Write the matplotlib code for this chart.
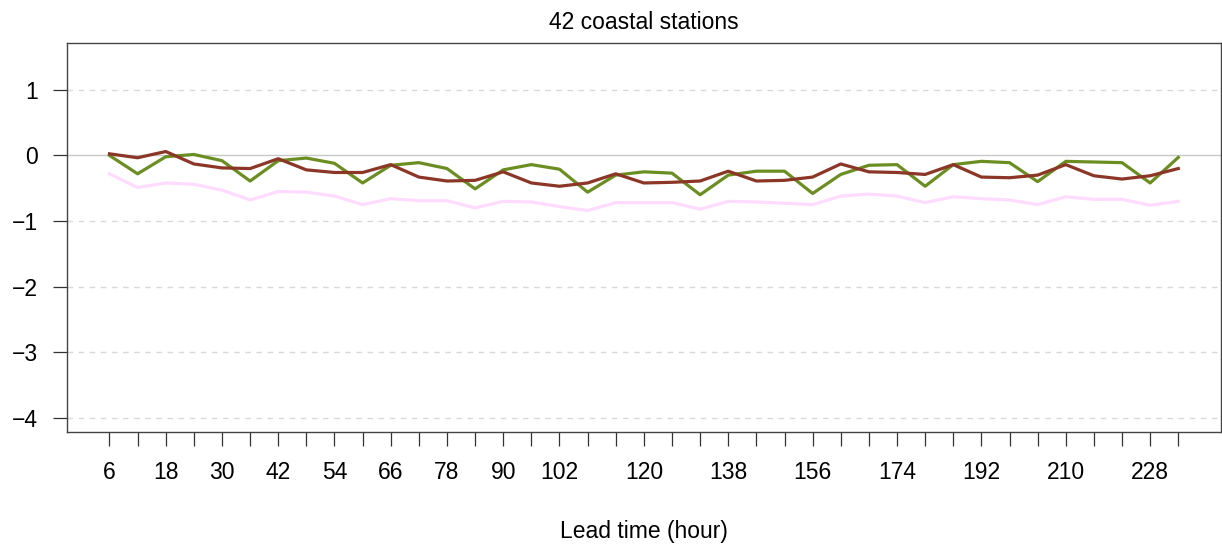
import matplotlib

matplotlib.use("Agg")
import matplotlib.pyplot as plt
import numpy as np

# lead times (hours) and the three series
lead_time = np.arange(6, 235, 6)
green = [0.00, -0.28, -0.02, 0.015, -0.08, -0.39, -0.08, -0.04, -0.12, -0.42,
         -0.15, -0.11, -0.20, -0.51, -0.22, -0.14, -0.21, -0.56, -0.30, -0.25,
         -0.27, -0.60, -0.30, -0.24, -0.24, -0.58, -0.29, -0.15, -0.14, -0.47,
         -0.14, -0.09, -0.11, -0.40, -0.09, -0.10, -0.11, -0.42, -0.03]
red = [0.025, -0.035, 0.06, -0.13, -0.19, -0.20, -0.05, -0.22, -0.26, -0.26,
       -0.14, -0.33, -0.39, -0.38, -0.25, -0.42, -0.47, -0.42, -0.28, -0.42,
       -0.41, -0.39, -0.24, -0.39, -0.38, -0.33, -0.13, -0.25, -0.26, -0.29,
       -0.14, -0.33, -0.34, -0.30, -0.14, -0.31, -0.36, -0.31, -0.20]
pink = [-0.28, -0.49, -0.42, -0.44, -0.53, -0.68, -0.55, -0.56, -0.62, -0.75,
        -0.66, -0.69, -0.69, -0.80, -0.70, -0.71, -0.78, -0.84, -0.72, -0.72,
        -0.72, -0.82, -0.70, -0.71, -0.73, -0.75, -0.62, -0.59, -0.62, -0.72,
        -0.63, -0.66, -0.68, -0.75, -0.63, -0.67, -0.67, -0.76, -0.70]
shown_labels = [6, 18, 30, 42, 54, 66, 78, 90, 102, 120, 138, 156, 174, 192, 210, 228]
y_ticks = [-4, -3, -2, -1, 0, 1]

plt.rcParams["font.family"] = ["Liberation Sans", "DejaVu Sans"]
fs = 16.5

fig = plt.figure(figsize=(12.22, 5.47), dpi=100)
ax = fig.add_axes([0.0546, 0.2102, 0.9446, 0.7117])

for yv in y_ticks:
    if yv == 0:
        ax.axhline(yv, color="#c8c8c8", lw=1.0, zorder=1)
    else:
        ax.axhline(yv, color="#d9d9d9", lw=1.0, ls=(0, (4, 4)), zorder=1)

ax.plot(lead_time, pink, color="#ffdcff", lw=2.3, zorder=2)
ax.plot(lead_time, green, color="#6b8e23", lw=2.3, zorder=3)
ax.plot(lead_time, red, color="#8b3626", lw=2.3, zorder=4)

ax.set_xlim(-3.12, 243.12)
ax.set_ylim(-4.22, 1.72)

ax.set_xticks(lead_time)
ax.set_xticklabels([str(t) if t in shown_labels else "" for t in lead_time])
ax.set_yticks(y_ticks)
ax.set_yticklabels([str(v).replace("-", "\u2212") for v in y_ticks])
ax.tick_params(axis="both", length=10, width=0.9, color="#333333", labelsize=fs)
ax.tick_params(axis="x", pad=11)
ax.tick_params(axis="y", pad=11)

for sp in ax.spines.values():
    sp.set_color("#444444")
    sp.set_linewidth(1.0)

ax.set_title("42 coastal stations", fontsize=fs, pad=10)
ax.set_xlabel("Lead time (hour)", fontsize=fs, labelpad=26)

fig.savefig("out.png", dpi=100)
plt.close(fig)
